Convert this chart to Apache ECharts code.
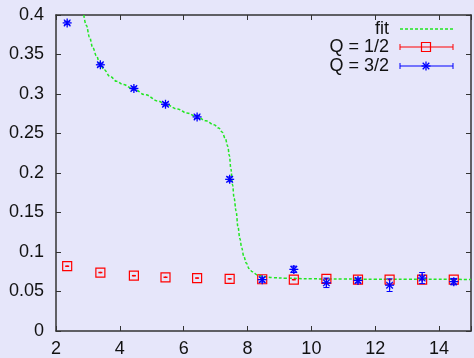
<!DOCTYPE html>
<html>
<head>
<meta charset="utf-8">
<script src="https://cdn.jsdelivr.net/npm/echarts@6/dist/echarts.min.js"></script>
<style>html,body{margin:0;padding:0;background:#e6e6fa;}#c{width:474px;height:358px;}</style>
</head>
<body>
<div id="c"></div>
<script>
// x positions of the data points
var qX = [2.35, 3.39, 4.44, 5.43, 6.42, 7.44, 8.46, 9.45, 10.47, 11.46, 12.45, 13.47, 14.46];
// Q = 1/2 values and errors
var q12Y = [0.082, 0.074, 0.070, 0.068, 0.067, 0.066, 0.0655, 0.065, 0.066, 0.065, 0.065, 0.065, 0.065];
var q12Err = [0.001, 0.001, 0.001, 0.001, 0.001, 0.001, 0.001, 0.001, 0.001, 0.001, 0.001, 0.001, 0.001];
// Q = 3/2 values and errors
var q32Y = [0.390, 0.337, 0.307, 0.287, 0.271, 0.192, 0.065, 0.078, 0.061, 0.064, 0.058, 0.067, 0.0625];
var q32Err = [0.002, 0.002, 0.002, 0.002, 0.002, 0.003, 0.003, 0.004, 0.006, 0.003, 0.008, 0.007, 0.004];
// fit curve
var fitX = [2.87, 2.95, 3.05, 3.15, 3.27, 3.36, 3.5, 3.7, 3.9, 4.1, 4.44, 4.8, 5.2, 5.43, 5.8, 6.1, 6.42, 6.7, 6.95, 7.1, 7.2, 7.3, 7.38, 7.43, 7.48, 7.53, 7.58, 7.64, 7.7, 7.76, 7.82, 7.88, 7.96, 8.05, 8.15, 8.3, 8.5, 8.8, 9.2, 10, 11, 12, 13, 14, 15];
var fitY = [0.400, 0.387, 0.372, 0.359, 0.348, 0.340, 0.331, 0.322, 0.316, 0.312, 0.306, 0.299, 0.291, 0.287, 0.281, 0.276, 0.271, 0.266, 0.261, 0.257, 0.252, 0.244, 0.234, 0.222, 0.205, 0.185, 0.168, 0.152, 0.132, 0.117, 0.105, 0.095, 0.086, 0.079, 0.075, 0.071, 0.069, 0.0675, 0.0668, 0.066, 0.0658, 0.0656, 0.0655, 0.0654, 0.0653];
// axis ticks
var xMin = 2, xMax = 15, xStep = 2;
var yMin = 0, yMax = 0.4, yStep = 0.05;
var legendNames = ['fit', 'Q = 1/2', 'Q = 3/2'];

var FONT = 'Liberation Sans, Arial, sans-serif';
var AX = '#333333';
var RED = '#ff0000', BLUE = '#0000ff', GREEN = '#22e622';

function zip3(a, b, c) { return a.map(function (v, i) { return [v, b[i], c[i]]; }); }

function renderRed(params, api) {
  var x = api.value(0), y = api.value(1), e = api.value(2);
  var p = api.coord([x, y]);
  var top = api.coord([x, y + e]), bot = api.coord([x, y - e]);
  var s = 4.5;
  return { type: 'group', children: [
    { type: 'rect', shape: { x: p[0] - s, y: p[1] - s, width: 2 * s, height: 2 * s },
      style: { fill: 'none', stroke: RED, lineWidth: 1.2 } },
    { type: 'line', shape: { x1: p[0], y1: top[1], x2: p[0], y2: bot[1] }, style: { stroke: RED, lineWidth: 1 } },
    { type: 'line', shape: { x1: p[0] - 2, y1: p[1], x2: p[0] + 2, y2: p[1] }, style: { stroke: RED, lineWidth: 1.5 } }
  ]};
}
function renderBlue(params, api) {
  var x = api.value(0), y = api.value(1), e = api.value(2);
  var p = api.coord([x, y]);
  var top = api.coord([x, y + e]), bot = api.coord([x, y - e]);
  var s = 4.5, d = 3.3, c = 3;
  var st = { stroke: BLUE, lineWidth: 1.3 };
  return { type: 'group', children: [
    { type: 'line', shape: { x1: p[0] - s, y1: p[1], x2: p[0] + s, y2: p[1] }, style: st },
    { type: 'line', shape: { x1: p[0], y1: p[1] - s, x2: p[0], y2: p[1] + s }, style: st },
    { type: 'line', shape: { x1: p[0] - d, y1: p[1] - d, x2: p[0] + d, y2: p[1] + d }, style: st },
    { type: 'line', shape: { x1: p[0] - d, y1: p[1] + d, x2: p[0] + d, y2: p[1] - d }, style: st },
    { type: 'line', shape: { x1: p[0], y1: top[1], x2: p[0], y2: bot[1] }, style: { stroke: BLUE, lineWidth: 1 } },
    { type: 'line', shape: { x1: p[0] - c, y1: top[1], x2: p[0] + c, y2: top[1] }, style: { stroke: BLUE, lineWidth: 1 } },
    { type: 'line', shape: { x1: p[0] - c, y1: bot[1], x2: p[0] + c, y2: bot[1] }, style: { stroke: BLUE, lineWidth: 1 } }
  ]};
}

var axisCommon = {
  axisLine: { show: true, onZero: false, lineStyle: { color: AX, width: 1.5 } },
  axisTick: { show: true, inside: true, length: 5, lineStyle: { color: AX, width: 1 } },
  splitLine: { show: false }
};

// legend drawn as graphic elements
var lgX1 = 400, lgX2 = 453, lgTx = 389, lgY = [29, 47, 66];
var graphics = [];
legendNames.forEach(function (n, i) {
  graphics.push({ type: 'text', left: lgTx, top: lgY[i], style: { text: n, font: '18px ' + FONT, fill: '#111', align: 'right', verticalAlign: 'middle' }, x: lgTx, y: lgY[i] });
});
var g = [];
g.push({ type: 'text', x: lgTx, y: lgY[0], style: { text: legendNames[0], font: '18px ' + FONT, fill: '#111', textAlign: 'right', textVerticalAlign: 'middle' } });
g.push({ type: 'text', x: lgTx, y: lgY[1], style: { text: legendNames[1], font: '18px ' + FONT, fill: '#111', textAlign: 'right', textVerticalAlign: 'middle' } });
g.push({ type: 'text', x: lgTx, y: lgY[2], style: { text: legendNames[2], font: '18px ' + FONT, fill: '#111', textAlign: 'right', textVerticalAlign: 'middle' } });
g.push({ type: 'line', shape: { x1: lgX1, y1: lgY[0], x2: lgX2, y2: lgY[0] }, style: { stroke: GREEN, lineWidth: 1.5, lineDash: [3, 2] } });
[[RED, lgY[1]], [BLUE, lgY[2]]].forEach(function (a) {
  g.push({ type: 'line', shape: { x1: lgX1, y1: a[1], x2: lgX2, y2: a[1] }, style: { stroke: a[0], lineWidth: 1 } });
  g.push({ type: 'line', shape: { x1: lgX1, y1: a[1] - 3, x2: lgX1, y2: a[1] + 3 }, style: { stroke: a[0], lineWidth: 1 } });
  g.push({ type: 'line', shape: { x1: lgX2, y1: a[1] - 3, x2: lgX2, y2: a[1] + 3 }, style: { stroke: a[0], lineWidth: 1 } });
});
var cx = (lgX1 + lgX2) / 2 - 0.5;
g.push({ type: 'rect', shape: { x: cx - 4.5, y: lgY[1] - 4.5, width: 9, height: 9 }, style: { fill: 'none', stroke: RED, lineWidth: 1.2 } });
[[-4.5, 0, 4.5, 0], [0, -4.5, 0, 4.5], [-3.3, -3.3, 3.3, 3.3], [-3.3, 3.3, 3.3, -3.3]].forEach(function (s) {
  g.push({ type: 'line', shape: { x1: cx + s[0], y1: lgY[2] + s[1], x2: cx + s[2], y2: lgY[2] + s[3] }, style: { stroke: BLUE, lineWidth: 1.3 } });
});

var chart = echarts.init(document.getElementById('c'), null, { renderer: 'canvas' });
chart.setOption({
  backgroundColor: '#e6e6fa',
  animation: false,
  grid: { left: 56, top: 15, right: -3, bottom: 25, containLabel: false },
  xAxis: [
    Object.assign({ type: 'value', position: 'bottom', min: xMin, max: xMax, interval: xStep,
      axisLabel: { show: true, margin: 9, color: '#111', fontSize: 18, fontFamily: FONT,
        formatter: function (v) { return v > 14 ? '' : String(v); } } }, axisCommon),
    Object.assign({ type: 'value', position: 'top', min: xMin, max: xMax, interval: xStep, axisLabel: { show: false } }, axisCommon)
  ],
  yAxis: [
    Object.assign({ type: 'value', position: 'left', min: yMin, max: yMax, interval: yStep,
      axisLabel: { show: true, margin: 12, color: '#111', fontSize: 18, fontFamily: FONT,
        formatter: function (v) { return String(Math.round(v * 100) / 100); } } }, axisCommon),
    Object.assign({ type: 'value', position: 'right', min: yMin, max: yMax, interval: yStep, axisLabel: { show: false } }, axisCommon)
  ],
  series: [
    { name: 'fit', type: 'line', xAxisIndex: 0, yAxisIndex: 0, showSymbol: false, symbol: 'none',
      smooth: 0.4, smoothMonotone: 'x',
      data: fitX.map(function (x, i) { return [x, fitY[i]]; }),
      lineStyle: { color: GREEN, width: 1.5, type: [3, 2] }, z: 2 },
    { name: 'Q = 1/2', type: 'custom', renderItem: renderRed, data: zip3(qX, q12Y, q12Err), z: 3 },
    { name: 'Q = 3/2', type: 'custom', renderItem: renderBlue, data: zip3(qX, q32Y, q32Err), z: 4 }
  ],
  graphic: g
});
</script>
</body>
</html>
